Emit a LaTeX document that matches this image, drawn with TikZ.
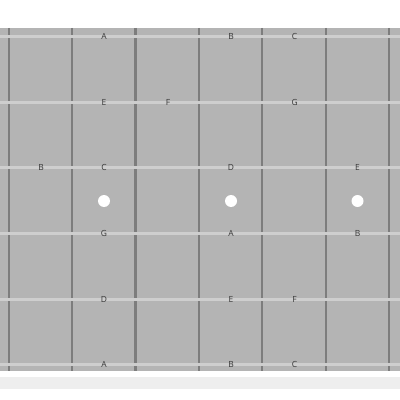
\documentclass[tikz,border=0pt]{standalone}
\usepackage{fontspec}
\setsansfont{Open Sans}
\usepackage{xcolor}
\usepackage{tikz}
\definecolor{hals}{RGB}{180,180,180}
\definecolor{snaar}{RGB}{206,206,206}
\definecolor{fret}{RGB}{125,125,125}
\definecolor{noot}{RGB}{55,55,55}
\definecolor{rand}{RGB}{238,238,238}

\begin{document}
\begin{tikzpicture}[x=0.025cm, y=-0.025cm, every node/.style={font=\sffamily\fontsize{6}{7}\selectfont, text=noot, inner sep=0pt}]
            \useasboundingbox (0,0) rectangle (400,400);
            % hals
            \fill[hals] (0,28) rectangle (400,371);
            \fill[rand] (0,377) rectangle (400,389);
            % frets
            \foreach \k in {0,...,6}
            \draw[fret, line width=1.6pt] (8.7+63.4*\k, 28) -- (8.7+63.4*\k, 371);
            % snaren
            \foreach \s in {0,...,5}
            \draw[snaar, line width=2.2pt] (0, 36.7+65.6*\s) -- (400, 36.7+65.6*\s);
            % stippen
            \foreach \x in {104,231,357.5}
            \fill[white] (\x, 201) circle (6);
            % noten per snaar
            \foreach \s/\x/\n [count=\i] in {0/104/A, 0/231/B, 0/294.6/C,
                1/104/E, 1/168/F, 1/294.6/G,
                2/41/B, 2/104/C, 2/231/D, 2/357.5/E,
                3/104/G, 3/231/A, 3/357.5/B,
                4/104/D, 4/231/E, 4/294.6/F,
                5/104/A, 5/231/B, 5/294.6/C}
            \node (n\i) at (\x, 36.7+65.6*\s) {\n};
        \end{tikzpicture}
\end{document}
